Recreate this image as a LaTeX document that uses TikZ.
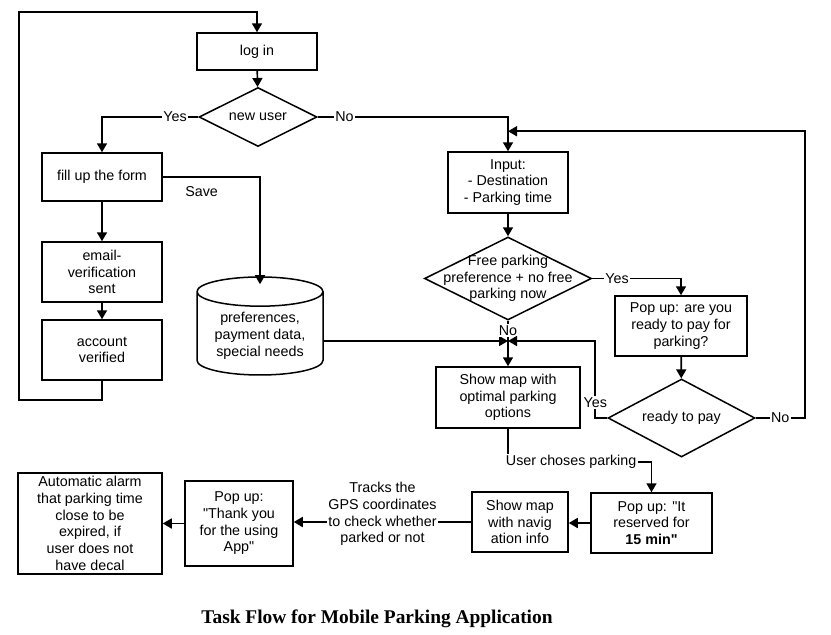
\documentclass[tikz,border=0pt]{standalone}
\usepackage{fontspec}
\setmainfont{Liberation Sans}[Ligatures=TeXOff]
\newfontfamily\titlefont{Liberation Serif}
\usetikzlibrary{shapes.geometric,arrows.meta}

\tikzset{
  box/.style={draw, line width=1.5pt, align=center, inner sep=2pt},
  decision/.style={draw, diamond, line width=1.5pt, inner sep=0pt},
  store/.style={draw, cylinder, shape border rotate=90, aspect=0.3, line width=1.5pt, align=center},
  flow/.style={line width=1.7pt, -{Triangle[length=9pt,width=10pt]}},
  link/.style={line width=1.7pt},
  tag/.style={fill=white, inner sep=1.5pt},
}

\begin{document}
\begin{tikzpicture}[x=1pt, y=-1pt, font=\fontsize{14.3}{16.7}\selectfont]
  \useasboundingbox (0,0) rectangle (831,635);
  %
  \node[box, minimum width=120pt, minimum height=37pt] (login) at (257,51.5) {log in};
  \node[decision, minimum width=118pt, minimum height=59pt,
        label={center:new user}] (newuser) at (258,117) {};
  \node[box, minimum width=120pt, minimum height=48pt] (form) at (102,177) {fill up the form};
  \node[box, minimum width=120pt, minimum height=60pt] (email) at (102,272) {email-\\verification\\sent};
  \node[box, minimum width=120pt, minimum height=60pt] (verified) at (102,350) {account\\verified};
  \node[store, minimum width=126pt, minimum height=98pt] (prefs) at (260,336) {preferences,\\payment data,\\special needs};
  %
  \node[box, minimum width=120pt, minimum height=61pt] (input) at (508,182.5) {Input:\\- Destination\\- Parking time};
  \node[decision, minimum width=167pt, minimum height=83pt,
        label={[align=center]center:Free parking\\preference + no free\\parking now}] (free) at (508,278.5) {};
  \node[box, minimum width=132pt, minimum height=60pt] (askpay) at (681,326) {Pop up: are you\\ready to pay for\\parking?};
  \node[decision, minimum width=147pt, minimum height=78pt,
        label={center:ready to pay}] (ready) at (681.5,418) {};
  \coordinate (meet) at (508,341);
  \node[box, minimum width=144pt, minimum height=61pt] (optmap) at (508,397.5) {Show map with\\optimal parking\\options};
  %
  \node[box, minimum width=121pt, minimum height=60pt] (reserved) at (651.5,523) {Pop up: "It\\reserved for\\\textbf{15 min"}};
  \node[box, minimum width=96pt, minimum height=60pt] (navmap) at (520,522) {Show map\\with navig\\ation info};
  \node[box, minimum width=108pt, minimum height=85pt] (thanks) at (239,523.5) {Pop up:\\"Thank you\\for the using\\App"};
  \node[box, minimum width=144pt, minimum height=101pt] (alarm) at (90,523.5) {Automatic alarm\\that parking time\\close to be\\expired, if\\user does not\\have decal};
  %
  \node[font=\titlefont\bfseries\fontsize{19.4}{22}\selectfont] (title) at (377,619) {Task Flow for Mobile Parking Application};
  %
  \draw[flow] (login) -- (newuser);
  \draw[flow] (newuser.west) -| node[tag, pos=0.12]{Yes} (form.north);
  \draw[flow] (newuser.east) -| node[tag, pos=0.07]{No} (input.north);
  \draw[flow] (form) -- (email);
  \draw[flow] (email) -- (verified);
  \draw[flow] (verified.south) |- (19,400) |- ([yshift=20pt]login.north) -- (login.north);
  \draw[flow] (form.east) -| node[pos=0.2, below=5pt]{Save} ([yshift=-8pt]prefs.north);
  \draw[flow] (prefs.east |- meet) -- (meet);
  %
  \draw[flow] (input) -- (free);
  \draw[link] (free.south) -- node[tag]{No} (meet);
  \draw[flow] (free.east) -| node[tag, pos=0.14]{Yes} (askpay.north);
  \draw[flow] (askpay) -- (ready);
  \draw[flow] (ready.west) -- ++(-12,0) -- node[tag, pos=0.2]{Yes} ++(0,-77) -- (meet);
  \draw[flow] (ready.east) -- node[tag]{No} ++(49,0) |- ([yshift=20pt]input.north);
  \draw[flow] (meet) -- (optmap.north);
  %
  \draw[flow] (optmap.south) -- ++(0,33) -| node[tag, pos=0.22]{User choses parking} (reserved.north);
  \draw[flow] (reserved.west) -- (reserved.west -| navmap.east);
  \draw[flow] (navmap.west) -- node[tag, align=center, yshift=8pt]{Tracks the\\GPS coordinates\\to check whether\\parked or not} (navmap.west -| thanks.east);
  \draw[flow] (thanks.west) -- (alarm.east);
\end{tikzpicture}
\end{document}
